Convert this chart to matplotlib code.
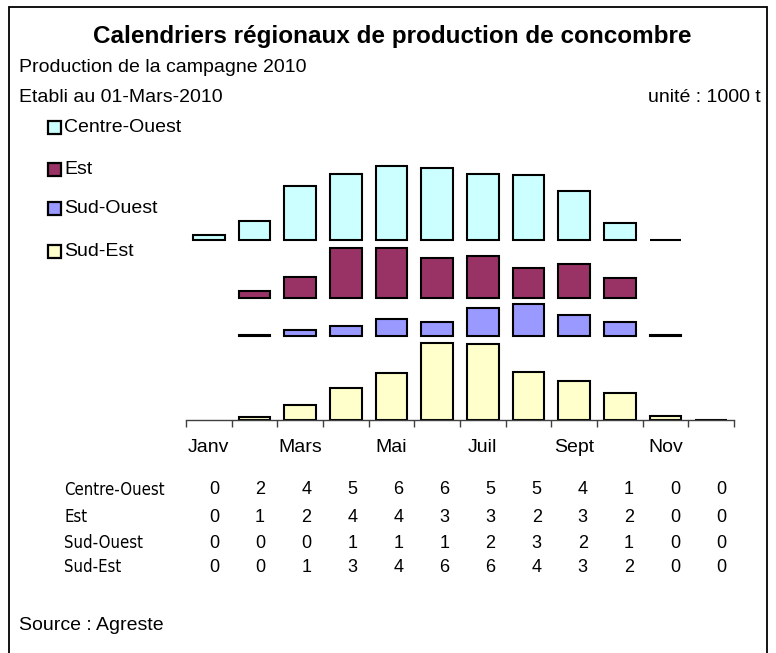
import numpy as np
import matplotlib
matplotlib.use('Agg')
import matplotlib.pyplot as plt
from matplotlib.patches import Rectangle

plt.rcParams['font.family'] = ['Liberation Sans', 'DejaVu Sans']

# donnees (1000 t)
mois = ['Janv', 'Févr', 'Mars', 'Avr', 'Mai', 'Juin',
        'Juil', 'Août', 'Sept', 'Oct', 'Nov', 'Déc']
regions = ['Centre-Ouest', 'Est', 'Sud-Ouest', 'Sud-Est']
centre_ouest = [0.4, 1.55, 4.4, 5.4, 6.0, 5.85, 5.4, 5.3, 4.0, 1.4, 0.02, 0]
est = [0, 0.57, 1.7, 4.1, 4.05, 3.25, 3.4, 2.4, 2.8, 1.6, 0, 0]
sud_ouest = [0, 0.02, 0.45, 0.8, 1.35, 1.1, 2.25, 2.6, 1.7, 1.1, 0.02, 0]
sud_est = [0, 0.27, 1.2, 2.6, 3.8, 6.3, 6.2, 3.9, 3.2, 2.2, 0.35, 0.03]
couleurs = ['#CCFFFF', '#993366', '#9999FF', '#FFFFCC']

series = [centre_ouest, est, sud_ouest, sud_est]
# decalage vertical de chaque bande (unites de l'axe)
bases = [14.63, 9.92, 6.85, 0]

W, H = 776, 653
fig = plt.figure(figsize=(W / 100, H / 100), dpi=100)

def fx(px):
    return px / W

def fy(py):
    return 1 - py / H

# cadre
fig.patches.append(Rectangle((fx(9), -0.05), fx(767) - fx(9), fy(7) + 0.05,
                             transform=fig.transFigure, fill=False,
                             edgecolor='black', linewidth=1.3))

ax = fig.add_axes([fx(186), fy(420), fx(734) - fx(186), (420 - 150) / H])
x = np.arange(len(mois))
for vals, base, c in zip(series, bases, couleurs):
    vals = np.array(vals, dtype=float)
    m = vals > 0
    ax.bar(x[m], vals[m], bottom=base, width=0.69, color=c,
           edgecolor='black', linewidth=1.5)

ax.set_xlim(-0.5, len(mois) - 0.5)
ax.set_ylim(0, 270 / 12.3)
for s in ['left', 'right', 'top']:
    ax.spines[s].set_visible(False)
ax.spines['bottom'].set_color('#404040')
ax.spines['bottom'].set_linewidth(1.0)
ax.set_yticks([])
ax.set_xticks(np.arange(len(mois) + 1) - 0.5)
ax.set_xticklabels([])
ax.tick_params(axis='x', length=5, width=1.0, color='#404040')
for i in range(0, len(mois), 2):
    fig.text(fx(186 + (i + 0.5) * 548 / 12), fy(447), mois[i],
             ha='center', va='center', fontsize=14)

# textes
fig.text(fx(392), fy(36), 'Calendriers régionaux de production de concombre',
         ha='center', va='center', fontsize=17.5, fontweight='bold')
fig.text(fx(19), fy(67), 'Production de la campagne 2010',
         ha='left', va='center', fontsize=14)
fig.text(fx(19), fy(97), 'Etabli au 01-Mars-2010',
         ha='left', va='center', fontsize=14)
fig.text(fx(761), fy(97), 'unité : 1000 t',
         ha='right', va='center', fontsize=14)
fig.text(fx(19), fy(625), 'Source : Agreste',
         ha='left', va='center', fontsize=14)

# legende
leg_y = [127, 169, 209, 251]
for nom, c, yy in zip(regions, couleurs, leg_y):
    fig.patches.append(Rectangle((fx(48), fy(yy + 6.5)), fx(13), 13 / H,
                                 transform=fig.transFigure, facecolor=c,
                                 edgecolor='black', linewidth=1.6))
    fig.text(fx(64), fy(yy), nom, ha='left', va='center', fontsize=14)

# tableau des valeurs arrondies
row_y = [490, 517, 543, 567]
for nom, vals, yy in zip(regions, series, row_y):
    fig.text(fx(64), fy(yy), nom, ha='left', va='center', fontsize=12,
             family='DejaVu Sans', fontstretch='condensed')
    for i, v in enumerate(vals):
        fig.text(fx(214 + i * 46.1), fy(yy), str(int(round(v))),
                 ha='center', va='center', fontsize=13)

fig.savefig('out.png', dpi=100)
